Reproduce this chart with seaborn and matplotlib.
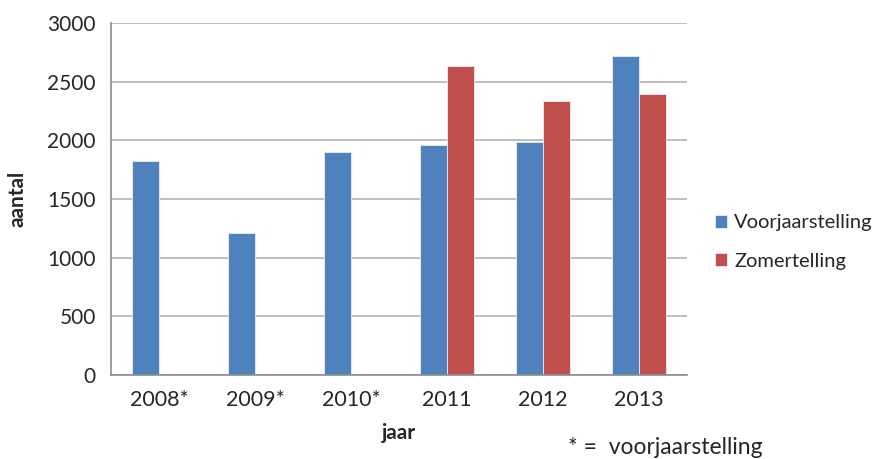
import pandas as pd
import matplotlib
matplotlib.use("Agg")
import matplotlib.pyplot as plt
import seaborn as sns

# data
jaren = ["2008*", "2009*", "2010*", "2011", "2012", "2013"]
voorjaar = [1820, 1210, 1900, 1960, 1990, 2720]
zomer = [None, None, None, 2630, 2335, 2395]

df = pd.DataFrame({
    "jaar": jaren * 2,
    "aantal": voorjaar + zomer,
    "telling": ["Voorjaarstelling"] * 6 + ["Zomertelling"] * 6,
})

sns.set_style("white")
plt.rcParams["font.family"] = ["Lato", "DejaVu Sans"]

fig = plt.figure(figsize=(8.87, 4.59), dpi=100)
ax = fig.add_axes([111 / 887, 1 - 375 / 459, 576 / 887, 352 / 459])

sns.barplot(data=df, x="jaar", y="aantal", hue="telling",
            palette=["#4F81BD", "#C0504D"], width=0.571, dodge=True,
            saturation=1, ax=ax, legend=True, linewidth=0.6, edgecolor="#e8eef6")

ax.set_ylim(0, 3000)
ax.set_yticks(range(0, 3001, 500))
ax.set_xlim(-0.5, 5.5)
ax.yaxis.grid(True, color="#b4b4b4", linewidth=1.2)
ax.set_axisbelow(True)
for s in ["top", "right"]:
    ax.spines[s].set_visible(False)
for s in ["left", "bottom"]:
    ax.spines[s].set_color("#8c8c8c")
    ax.spines[s].set_linewidth(1.2)
ax.tick_params(axis="y", length=7, color="#b4b4b4", labelsize=15, pad=4)
ax.tick_params(axis="x", length=0, labelsize=15.5, pad=11)

ax.set_xlabel("jaar", fontsize=15, fontweight="bold", labelpad=9)
ax.set_ylabel("aantal", fontsize=15, fontweight="bold", labelpad=14)

handles, labels = ax.get_legend_handles_labels()
ax.get_legend().remove()
fig.legend(handles, labels, loc="center left", bbox_to_anchor=(715 / 887, 1 - 242 / 459),
           frameon=False, fontsize=14.5, handlelength=0.6, handleheight=0.6,
           handletextpad=0.35, labelspacing=1.05, borderaxespad=0, borderpad=0)

fig.text(568 / 887, 1 - 447 / 459, "* =  voorjaarstelling", fontsize=16.5, va="center")

fig.savefig("out.png", dpi=100)
